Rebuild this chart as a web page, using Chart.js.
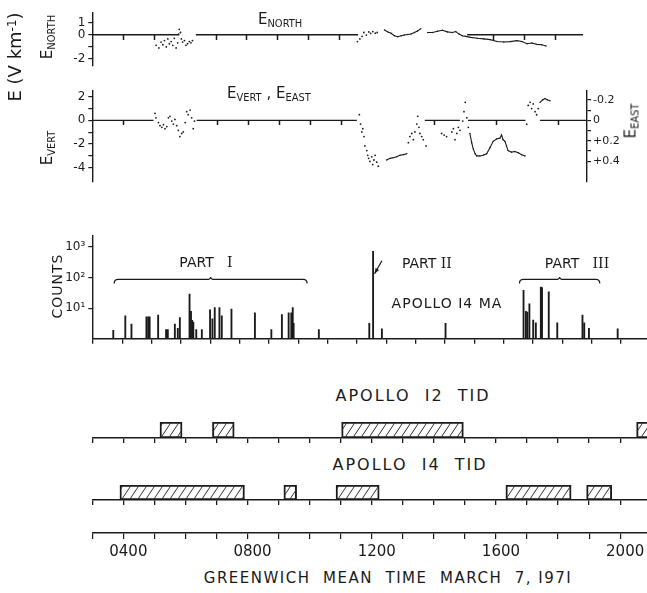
<!DOCTYPE html>
<html>
<head>
<meta charset="utf-8">
<script src="https://cdn.jsdelivr.net/npm/chart.js@4.4.1/dist/chart.umd.min.js"></script>
<style>
  body { margin: 0; background: #fff; }
  #fig { position: relative; width: 647px; height: 593px; overflow: hidden; font-family: "DejaVu Sans", sans-serif; color: #1a1a1a; }
  canvas { position: absolute; left: 0; }
  .t { position: absolute; white-space: nowrap; line-height: 1; }
  .c { transform: translate(-50%, -50%); }
  .rot { transform: translate(-50%, -50%) rotate(-90deg); }
  .s { font-size: 0.66em; position: relative; top: 0.35em; }
  .p { font-size: 0.66em; position: relative; top: -0.45em; }
  .rn { font-family: "DejaVu Serif", serif; }
</style>
</head>
<body>
<div id="fig">
  <canvas id="north" width="647" height="76" style="top:0px"></canvas>
  <canvas id="vert" width="647" height="112" style="top:80px"></canvas>
  <canvas id="counts" width="647" height="124" style="top:225px"></canvas>
  <canvas id="tid12" width="647" height="29" style="top:415px"></canvas>
  <canvas id="tid14" width="647" height="28" style="top:478px"></canvas>
  <canvas id="time" width="647" height="45" style="top:520px"></canvas>

  <div class="t rot" style="left:15px;top:57px;font-size:18px">E (V km<span class="p">-1</span>)</div>
  <div class="t rot" style="left:47px;top:37px;font-size:15px">E<span class="s">NORTH</span></div>
  <div class="t rot" style="left:47px;top:148px;font-size:15px">E<span class="s">VERT</span></div>
  <div class="t rot" style="left:631px;top:121px;font-size:15px">E<span class="s">EAST</span></div>
  <div class="t" style="left:258px;top:12px;font-size:15px">E<span class="s">NORTH</span></div>
  <div class="t" style="left:227px;top:86px;font-size:15px">E<span class="s">VERT</span> , E<span class="s">EAST</span></div>
  <div class="t rot" style="left:57px;top:286px;font-size:14px;letter-spacing:1px">COUNTS</div>
  <div class="t c" style="left:206px;top:262px;font-size:14px">PART&nbsp;&nbsp;&nbsp;<span class="rn">I</span></div>
  <div class="t" style="left:402px;top:256px;font-size:14px">PART <span class="rn">II</span></div>
  <div class="t c" style="left:577px;top:263px;font-size:14px">PART&nbsp;&nbsp;&nbsp;<span class="rn">III</span></div>
  <div class="t c" style="left:447px;top:303px;font-size:14px;letter-spacing:1px">APOLLO I4 MA</div>
  <div class="t c" style="left:413px;top:396px;font-size:16px;letter-spacing:2px">APOLLO&nbsp; I2&nbsp; TID</div>
  <div class="t c" style="left:410px;top:465px;font-size:16px;letter-spacing:2px">APOLLO&nbsp; I4&nbsp; TID</div>
  <div class="t c" style="left:388px;top:578px;font-size:15px;letter-spacing:1.5px">GREENWICH&nbsp; MEAN&nbsp; TIME&nbsp; MARCH&nbsp; 7, I97I</div>
</div>
<script>
// hour axis (GMT hours, March 7 1971)
const hourTicks = [3, 4, 5, 6, 7, 8, 9, 10, 11, 12, 13, 14, 15, 16, 17, 18, 19, 20];
const labelHours = [4, 8, 12, 16, 20];
const timeLabels = ['0400', '0800', '1200', '1600', '2000'];

// E north (V/km)
const northDotsH = [5.07, 5.16, 5.23, 5.29, 5.34, 5.40, 5.45, 5.50, 5.56, 5.61, 5.66, 5.72, 5.77, 5.80, 5.82, 5.86, 5.89, 5.93, 5.99, 6.04, 6.09, 6.15, 6.20, 6.25,
  11.60, 11.68, 11.75, 11.81, 11.89, 11.97, 12.03, 12.10, 12.18, 12.24];
const northDotsV = [-0.87, -1.08, -0.60, -0.82, -0.48, -1.00, -0.34, -0.74, -0.56, -0.87, -0.29, -1.08, -0.66, 0.06, 0.45, 0.19, -0.34, -0.60, -0.48, -0.87, -0.74, -0.56, -0.66, -0.48,
  -0.56, -0.34, -0.13, 0.19, -0.02, 0.24, 0.11, 0.27, 0.13, 0.19];
const northTraceH = [12.48, 12.59, 12.69, 12.80, 12.91, 13.02, 13.12, 13.23, 13.34, 13.45, 13.55, 13.66, 13.77, 13.88, 14.04, 14.20, 14.36, 14.52, 14.68, 14.79, 14.90, 15.00, 15.11,
  15.27, 15.49, 15.70, 15.91, 16.13, 16.35, 16.56, 16.77, 16.94, 17.10, 17.26, 17.42, 17.58, 17.72];
const northTraceV = [0.40, 0.24, 0.13, -0.08, -0.16, -0.08, -0.02, 0.03, 0.06, 0.19, 0.32, 0.51, null, 0.19, 0.19, 0.29, 0.37, 0.24, 0.19, 0.27, 0.06, -0.08, -0.13,
  -0.21, -0.29, -0.34, -0.40, -0.56, -0.60, -0.56, -0.48, -0.56, -0.74, -0.68, -0.79, -0.82, -0.92];
const northZeroSpans = [[3, 5.82], [6.36, 11.62], [15.16, 18.92]];

// E vert (V/km) and E east (V/km, inverted right scale)
const vertDotsH = [5.02, 5.05, 5.13, 5.18, 5.24, 5.29, 5.34, 5.40, 5.45, 5.50, 5.56, 5.61, 5.66, 5.72, 5.77, 5.82, 5.88, 5.93, 5.99, 6.04, 6.09, 6.15, 6.20, 6.25, 6.29,
  11.60, 11.64, 11.68, 11.71, 11.75, 11.78, 11.84, 11.87, 11.90, 11.94, 12.00, 12.03, 12.07, 12.11, 12.16, 12.21,
  13.18, 13.23, 13.29, 13.34, 13.39, 13.45, 13.48, 13.52, 13.55, 13.61, 13.66, 13.75,
  14.25, 14.33, 14.41, 14.58, 14.63, 14.68, 14.74, 14.79, 14.84, 14.93, 14.97, 15.01, 15.06, 15.11];
const vertDotsV = [0.60, 0.21, -0.19, -0.45, -0.59, -0.37, -0.71, -0.53, 0.21, 0.34, -0.06, -0.32, 0.08, -0.45, -0.85, -1.38, -1.11, -0.98, -0.19, 0.74, 0.48, 0.87, 0.21, -0.71, -0.06,
  0.48, -0.32, -0.98, -0.71, -1.38, -2.17, -2.57, -2.97, -3.23, -3.49, -3.10, -3.76, -3.37, -2.97, -3.55, -3.89,
  -1.90, -1.38, -1.11, -1.64, -0.98, -0.32, 0.34, -0.59, -1.11, -1.38, -1.64, -2.17,
  -1.11, -1.25, -1.38, -0.98, -0.71, -1.64, -1.11, -0.59, -0.85, -0.06, 0.74, 1.53, 0.21, -0.59];
const vertTraceH = [12.48, 12.59, 12.69, 12.80, 12.91, 13.02, 13.13];
const vertTraceV = [-3.37, -3.23, -3.17, -3.10, -2.97, -2.91, -2.83];
const eastTraceH = [15.16, 15.22, 15.27, 15.33, 15.38, 15.48, 15.59, 15.70, 15.81, 15.91, 16.02, 16.13, 16.18, 16.23, 16.29, 16.34, 16.39, 16.50, 16.61, 16.72, 16.83, 16.94,
  17.39, 17.42, 17.51, 17.58, 17.65, 17.74];
const eastTraceV = [0.128, 0.22, 0.282, 0.328, 0.349, 0.349, 0.343, 0.328, 0.267, 0.206, 0.183, 0.174, 0.144, 0.19, 0.206, 0.251, 0.297, 0.312, 0.306, 0.318, 0.337, 0.349,
  null, -0.177, -0.202, -0.214, -0.202, -0.193];
const eastDotsH = [16.99, 17.04, 17.10, 17.15, 17.20, 17.26, 17.31, 17.36];
const eastDotsV = [0.037, -0.147, -0.177, -0.116, -0.161, -0.085, -0.055, -0.116];
const vertZeroSpans = [[3, 4.97], [6.36, 11.52], [13.71, 14.84], [15.10, 16.95], [17.42, 18.92]];

// Apollo 14 MA counts
const maHours = [3.19, 3.60, 3.81, 4.32, 4.38, 4.43, 4.72, 4.99, 5.05, 5.29, 5.39, 5.46, 5.79, 5.84, 5.88, 5.92, 6.02, 6.21, 6.49, 6.57, 6.65, 6.81, 6.89, 7.22, 8.02,
  8.58, 8.94, 9.17, 9.26, 9.31, 9.34, 10.20, 11.92, 12.05, 12.35, 14.52, 17.18, 17.26, 17.31, 17.38, 17.51, 17.60, 17.77, 17.81, 18.04, 18.33, 19.19, 19.25, 19.41, 20.39];
const maCounts = [1.9, 5.6, 3.0, 5.2, 5.2, 5.2, 6.0, 2.0, 2.0, 3.0, 2.2, 4.9, 29, 7.9, 4.0, 3.5, 2.0, 2.0, 8.9, 4.5, 10.5, 10.5, 5.6, 9.3, 7.0,
  2.0, 6.2, 7.0, 7.0, 10.5, 3.2, 2.0, 3.2, 720, 2.1, 3.2, 38, 7.9, 7.5, 14, 4.1, 3.3, 49, 47, 34, 3.3, 6.0, 3.3, 2.2, 2.1];
const countTicks = [10, 100, 1000];
const countLabels = ['10¹', '10²', '10³'];

// TID event intervals (start, end hour)
const a12Spans = [[5.18, 5.89], [6.87, 7.57], [11.03, 14.95], [20.53, 21.5]];
const a14Spans = [[3.89, 7.90], [9.17, 9.58], [10.85, 12.24], [16.32, 18.42], [18.92, 19.73]];

// annotation anchors on the counts panel (hour, counts)
const partBraces = [[3.22, 9.80], [17.04, 19.78]];
const braceLevel = 87;
const partTwoArrow = [[12.35, 355], [12.1, 133]];

const INK = '#1a1a1a';
const X0 = 3, PX_PER_H = 31.05, LEFT = 92.3;
const xAt = px => X0 + (px - LEFT) / PX_PER_H;

Chart.defaults.font.family = '"DejaVu Sans", sans-serif';
Chart.defaults.color = INK;
Chart.defaults.animation = false;
Chart.defaults.events = [];
Chart.defaults.plugins.legend.display = false;
Chart.defaults.plugins.tooltip.enabled = false;

const pts = (hs, vs) => hs.map((h, i) => ({x: h, y: vs[i]}));
const zeroPts = spans => spans.flatMap(([a, b]) => [{x: a, y: 0}, {x: b, y: 0}, {x: b, y: null}]);

function hourAxis(max, extra) {
  return Object.assign({
    type: 'linear', min: X0, max: max,
    afterBuildTicks: s => { s.ticks = hourTicks.filter(h => h < max).map(v => ({value: v})); },
    ticks: {display: false, autoSkip: false},
    grid: {drawOnChartArea: false, color: INK, tickLength: 5, lineWidth: 1.3},
    border: {color: INK, width: 1.4},
    afterFit: s => { s.height = 6; }
  }, extra);
}

function valueAxis(min, max, ticks, fmt, extra) {
  return Object.assign({
    min: min, max: max,
    afterBuildTicks: s => { s.ticks = ticks.map(v => ({value: v})); },
    ticks: {callback: fmt, font: {size: 12}, padding: 3, autoSkip: false},
    grid: {drawOnChartArea: false, color: INK, tickLength: 4, lineWidth: 1.2},
    border: {color: INK, width: 1.4},
    afterFit: s => { s.width = LEFT; }
  }, extra);
}

const dots = data => ({data, showLine: false, pointRadius: 0.9, pointBackgroundColor: INK, pointBorderWidth: 0});
const trace = (data, yAxisID) => ({data, yAxisID: yAxisID || 'y', showLine: true, borderColor: INK, borderWidth: 1.1, pointRadius: 0.7, pointBackgroundColor: INK, pointBorderWidth: 0, spanGaps: false});
const zero = data => ({data, showLine: true, borderColor: INK, borderWidth: 1.4, pointRadius: 0, spanGaps: false});

// hourly tick marks hanging under the zero line, only where the line is drawn
function zeroTicks(spans) {
  return {
    id: 'zeroTicks',
    afterDraw(chart) {
      const {ctx, scales: {x, y}} = chart;
      const y0 = Math.round(y.getPixelForValue(0));
      ctx.save();
      ctx.strokeStyle = INK; ctx.lineWidth = 1.5;
      ctx.beginPath();
      hourTicks.forEach(h => {
        if (h <= X0 || !spans.some(([a, b]) => h >= a && h <= b)) return;
        const px = Math.round(x.getPixelForValue(h)) + 0.5;
        ctx.moveTo(px, y0); ctx.lineTo(px, y0 + 5);
      });
      ctx.stroke();
      ctx.restore();
    }
  };
}

// E north panel
const northMax = xAt(647);
new Chart(document.getElementById('north'), {
  type: 'scatter',
  data: {datasets: [
    zero(zeroPts(northZeroSpans)),
    dots(pts(northDotsH, northDotsV)),
    trace(pts(northTraceH, northTraceV))
  ]},
  options: {
    responsive: false, devicePixelRatio: 1,
    layout: {padding: {top: 13, bottom: 8, left: 0, right: 0}},
    scales: {
      x: {type: 'linear', min: X0, max: northMax, display: false},
      y: valueAxis(-2.56, 1.80, [-2, -1, 0, 1], v => (v === -1 ? '' : String(v)))
    }
  },
  plugins: [zeroTicks(northZeroSpans)]
});

// E vert / E east panel
const vertMax = xAt(587);
const eastFmt = v => {
  const r = Math.round(v * 10);
  if (r % 2) return '';
  return r === 0 ? '0' : (r > 0 ? '+' : '') + v.toFixed(1);
};
new Chart(document.getElementById('vert'), {
  type: 'scatter',
  data: {datasets: [
    zero(zeroPts(vertZeroSpans)),
    dots(pts(vertDotsH, vertDotsV)),
    trace(pts(vertTraceH, vertTraceV)),
    trace(pts(eastTraceH, eastTraceV), 'y2'),
    Object.assign(dots(pts(eastDotsH, eastDotsV)), {yAxisID: 'y2'})
  ]},
  options: {
    responsive: false, devicePixelRatio: 1,
    layout: {padding: {top: 7, bottom: 7, left: 0, right: 0}},
    scales: {
      x: {type: 'linear', min: X0, max: vertMax, display: false},
      y: valueAxis(-5.22, 2.56, [-4, -3, -2, -1, 0, 1, 2], v => (v % 2 ? '' : String(v))),
      y2: valueAxis(-0.296, 0.603, [-0.2, -0.1, 0, 0.1, 0.2, 0.3, 0.4], eastFmt, {
        position: 'right', reverse: true,
        ticks: {font: {size: 11}, padding: 2, autoSkip: false, callback: eastFmt},
        afterFit: s => { s.width = 60; }
      })
    }
  },
  plugins: [zeroTicks(vertZeroSpans)]
});

// counts panel
const partsPlugin = {
  id: 'parts',
  afterDatasetsDraw(chart) {
    const {ctx, scales: {x, y}} = chart;
    ctx.save();
    ctx.strokeStyle = INK; ctx.fillStyle = INK; ctx.lineWidth = 1.2;
    const yb = y.getPixelForValue(braceLevel);
    partBraces.forEach(([a, b]) => {
      const xa = x.getPixelForValue(a), xb = x.getPixelForValue(b), xm = (xa + xb) / 2;
      ctx.beginPath();
      ctx.moveTo(xa, yb + 4); ctx.quadraticCurveTo(xa, yb, xa + 4, yb);
      ctx.lineTo(xm - 4, yb); ctx.quadraticCurveTo(xm, yb, xm, yb - 2.5);
      ctx.quadraticCurveTo(xm, yb, xm + 4, yb);
      ctx.lineTo(xb - 4, yb); ctx.quadraticCurveTo(xb, yb, xb, yb + 4);
      ctx.stroke();
    });
    const [[h1, c1], [h2, c2]] = partTwoArrow;
    const x1 = x.getPixelForValue(h1), y1 = y.getPixelForValue(c1);
    const x2 = x.getPixelForValue(h2), y2 = y.getPixelForValue(c2);
    const ang = Math.atan2(y2 - y1, x2 - x1);
    ctx.beginPath(); ctx.moveTo(x1, y1); ctx.lineTo(x2, y2); ctx.stroke();
    ctx.beginPath();
    ctx.moveTo(x2, y2);
    ctx.lineTo(x2 - 6 * Math.cos(ang - 0.35), y2 - 6 * Math.sin(ang - 0.35));
    ctx.lineTo(x2 - 6 * Math.cos(ang + 0.35), y2 - 6 * Math.sin(ang + 0.35));
    ctx.closePath(); ctx.fill();
    ctx.restore();
  }
};

new Chart(document.getElementById('counts'), {
  type: 'bar',
  data: {datasets: [{
    data: pts(maHours, maCounts),
    backgroundColor: INK, barThickness: 1.2, borderWidth: 0
  }]},
  options: {
    responsive: false, devicePixelRatio: 1,
    layout: {padding: {top: 7, bottom: 0, left: 0, right: 0}},
    scales: {
      x: hourAxis(northMax),
      y: valueAxis(1, 2427, countTicks, v => countLabels[countTicks.indexOf(v)] || '', {type: 'logarithmic'})
    }
  },
  plugins: [partsPlugin]
});

// TID strips
function hatch() {
  const c = document.createElement('canvas');
  c.width = 8; c.height = 12;
  const g = c.getContext('2d');
  g.strokeStyle = '#333'; g.lineWidth = 1;
  g.beginPath();
  g.moveTo(0, 12); g.lineTo(8, 0);
  g.moveTo(-1, 1.5); g.lineTo(1, -1.5);
  g.moveTo(7, 13.5); g.lineTo(9, 10.5);
  g.stroke();
  return g.createPattern(c, 'repeat');
}
const hatchFill = hatch();

function tidChart(id, spans, thick) {
  return new Chart(document.getElementById(id), {
    type: 'bar',
    data: {labels: ['tid'], datasets: [{
      data: spans.map(s => ({x: s, y: 'tid'})),
      backgroundColor: hatchFill, borderColor: INK, borderWidth: 1.3, borderSkipped: false,
      barThickness: thick
    }]},
    options: {
      indexAxis: 'y',
      responsive: false, devicePixelRatio: 1,
      layout: {padding: {top: 7, bottom: 0, left: LEFT, right: 0}},
      scales: {
        x: hourAxis(northMax),
        y: {type: 'category', display: false}
      }
    }
  });
}
tidChart('tid12', a12Spans, 16);
tidChart('tid14', a14Spans, 15);

// time axis
new Chart(document.getElementById('time'), {
  type: 'scatter',
  data: {datasets: [{data: []}]},
  options: {
    responsive: false, devicePixelRatio: 1,
    layout: {padding: {top: 10, bottom: 0, left: LEFT, right: 0}},
    scales: {
      x: hourAxis(northMax, {
        ticks: {display: true, autoSkip: false, maxRotation: 0, padding: 4, labelOffset: 5, font: {size: 15},
          callback: v => timeLabels[labelHours.indexOf(v)] || ''},
        grid: {drawOnChartArea: false, color: INK, tickLength: 6, lineWidth: 1.2},
        afterFit: s => { s.height = 32; }
      }),
      y: {display: false}
    }
  }
});
</script>
</body>
</html>
